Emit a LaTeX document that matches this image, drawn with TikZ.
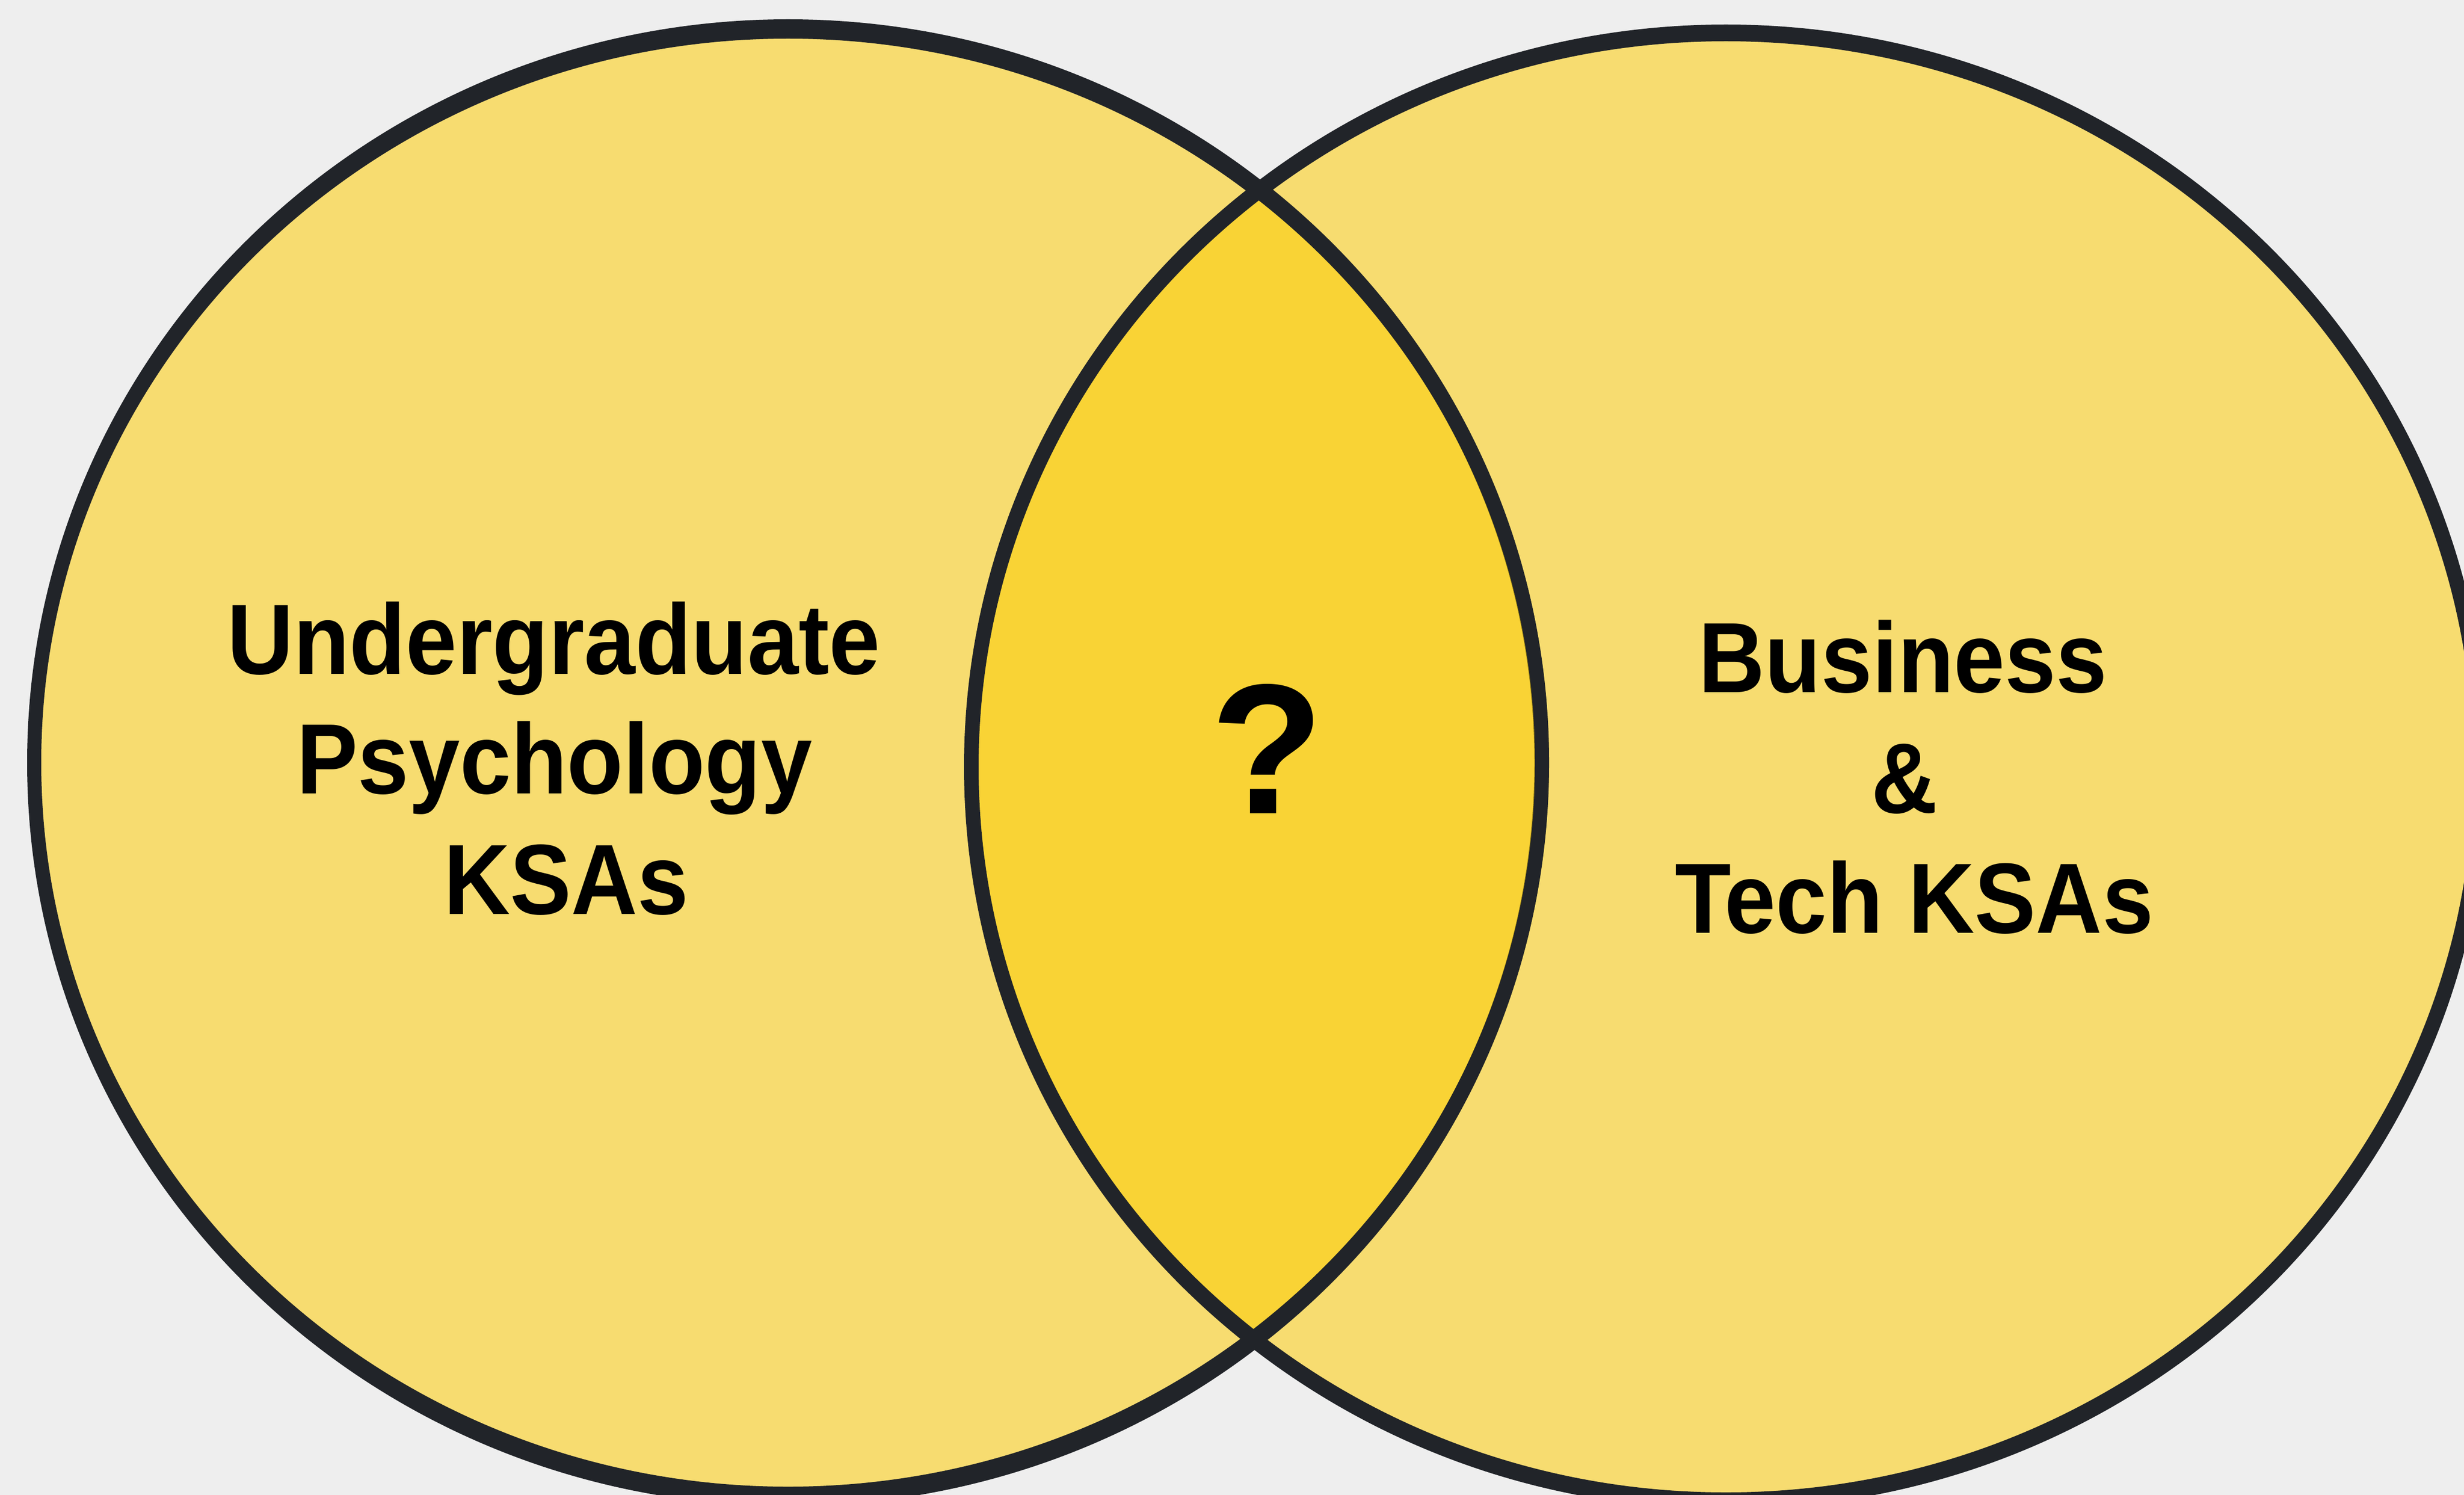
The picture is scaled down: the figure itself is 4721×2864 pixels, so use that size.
\documentclass[tikz,border=0pt]{standalone}
\usepackage{fontspec}
\setmainfont{Liberation Sans}
\definecolor{bgcol}{HTML}{EEEEEE}
\definecolor{pale}{HTML}{F7DC70}
\definecolor{lens}{HTML}{F9D335}
\definecolor{rim}{HTML}{212429}
\definecolor{olive}{HTML}{8F7A14}
\newcommand{\narrow}[1]{\scalebox{0.92}[1]{#1}}

\begin{document}
\begin{tikzpicture}[x=0.01cm,y=-0.01cm,
  lbl/.style={font=\fontsize{54.4}{65}\selectfont\bfseries, inner sep=0pt, anchor=base}]
\useasboundingbox (0,0) rectangle (4721,2864);
\fill [bgcol] (0,0) rectangle (4721,2864);
\coordinate (cL) at (1510,1461);
\coordinate (cR) at (3307,1469);
% the two sets
\fill [pale] (cL) ellipse [x radius=1444, y radius=1406];
\fill [pale] (cR) ellipse [x radius=1446, y radius=1406];
% overlap
\begin{scope}
\clip (cL) ellipse [x radius=1444, y radius=1406];
\fill [lens] (cR) ellipse [x radius=1446, y radius=1406];
\end{scope}
\begin{scope}
\clip (cR) ellipse [x radius=1446, y radius=1406];
\draw [olive, line width=8pt, rotate around={-0.45:(cL)}] (cL) ellipse [x radius=1444, y radius=1406];
\end{scope}
% outlines
\fill [rim, even odd rule] (cL) ellipse [x radius=1458, y radius=1424] (cL) ellipse [x radius=1431, y radius=1387];
\fill [rim, even odd rule] (cR) ellipse [x radius=1460, y radius=1422] (cR) ellipse [x radius=1432, y radius=1390];
% labels
\node [lbl] (und) at (1061,1291) {\narrow{Undergraduate}};
\node [lbl] (psy) at (1062,1520) {\narrow{Psychology}};
\node [lbl] (ksaL) at (1085,1751) {\narrow{KSAs}};
\node [lbl] (bus) at (3646,1326) {\narrow{Business}};
\node [lbl] (amp) at (3649,1557) {\narrow{\&}};
\node [lbl] (tech) at (3668,1787) {\narrow{Tech KSAs}};
\node [lbl, font=\fontsize{101}{120}\selectfont\bfseries] (q) at (2428,1558) {?};
\end{tikzpicture}
\end{document}
